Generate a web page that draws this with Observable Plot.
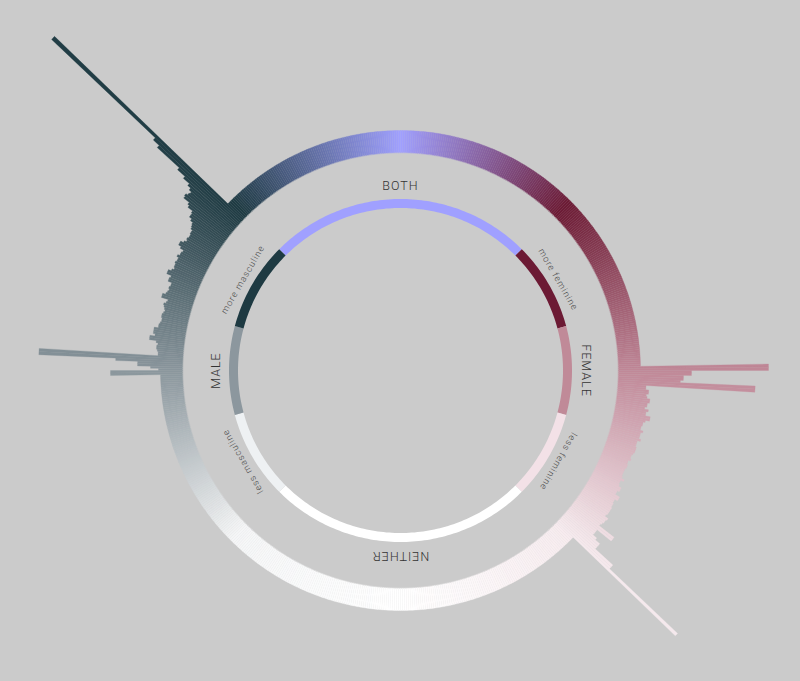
<!DOCTYPE html>
<html>
<head>
<meta charset="utf-8">
<script src="https://cdn.jsdelivr.net/npm/d3@7"></script>
<script src="https://cdn.jsdelivr.net/npm/@observablehq/plot@0.6"></script>
<style>
  body { margin: 0; background: #cbcbcb; }
  .gender-wheel text { letter-spacing: 1px; }
</style>
</head>
<body>
<div id="chart"></div>
<script>
// colours
const bg = '#cbcbcb';
const label_dark = '#333333';
const label_grey = '#4a4a4a';

// inner ring categories (angles clockwise from top, degrees)
const categories = ["BOTH", "more feminine", "FEMALE", "less feminine", "NEITHER", "less masculine", "MALE", "more masculine"];
const categoryFrom = [-45, 45, 75, 105, 135, 225, 255, 285];
const categoryTo = [45, 75, 105, 135, 225, 255, 285, 315];
const categoryColors = ['#a0a0ff', '#6c1a34', '#c08a98', '#f3e1e7', '#ffffff', '#eef1f3', '#8c979e', '#1e3a42'];
const bigLabels = ["BOTH", "FEMALE", "NEITHER", "MALE"];

// outer ring colour stops
const gradientAngles = [0, 45, 90, 135, 180, 225, 270, 315, 360];
const gradientColors = ['#a0a0ff', '#6c1a34', '#c08898', '#f7ecef', '#ffffff', '#f5f6f7', '#8a969c', '#1e3a42', '#a0a0ff'];

// histogram, one value per half degree bin
const binSize = 0.5;
const leftStart = 269;
const leftBars = [
  50, 50, 2, 10, 23, 23, 45, 122, 122, 3,
  3, 4, 5, 5, 4, 6, 13, 13, 8, 10,
  10, 10, 6, 6, 5, 4, 4, 5, 5, 4,
  3, 4, 5, 6, 4, 3, 10, 10, 7, 6,
  5, 6, 5, 5, 9, 9, 8, 13, 13, 10,
  8, 9, 9, 10, 9, 9, 11, 9, 9, 8,
  12, 15, 15, 12, 10, 11, 10, 10, 11, 11,
  13, 14, 15, 18, 21, 21, 22, 28, 30, 37,
  38, 36, 35, 38, 42, 50, 60, 90, 98, 241
];
const rightStart = 89;
const rightBars = [
  128, 128, 51, 51, 43, 43, 40, 115, 115, 6,
  6, 9, 9, 7, 8, 11, 11, 9, 9, 7,
  11, 9, 9, 14, 14, 10, 8, 8, 7, 7,
  10, 8, 8, 8, 10, 7, 7, 7, 8, 8,
  8, 7, 6, 6, 7, 5, 5, 6, 6, 5,
  5, 5, 5, 6, 9, 6, 6, 7, 10, 10,
  8, 8, 13, 13, 10, 10, 11, 11, 12, 12,
  12, 12, 11, 15, 14, 14, 13, 12, 31, 31,
  13, 13, 13, 18, 24, 24, 24, 48, 48, 142
];

let chartOption = {width: 800, height: 681, cx: 400, cy: 370, ringInner: 218, ringOuter: 240,
                   innerRing: 167, innerRingWidth: 9, labelR: 185, subLabelR: 182};

function polar(r, a) {
    // radius + angle (deg, clockwise from top) -> x/y in chart units
    const t = a * Math.PI / 180;
    return {x: r * Math.sin(t), y: r * Math.cos(t)};
}

const ringColor = d3.scaleLinear().domain(gradientAngles).range(gradientColors).interpolate(d3.interpolateRgb);

// every bin of the outer ring, with its bar on top
const nBins = Math.round(360 / binSize);
const values = new Array(nBins).fill(0);
leftBars.forEach((v, i) => values[Math.round(leftStart / binSize) + i] = v);
rightBars.forEach((v, i) => values[Math.round(rightStart / binSize) + i] = v);

const binPoints = values.flatMap((v, k) => {
    const a0 = k * binSize, a1 = a0 + binSize;
    const color = ringColor(a0 + binSize / 2);
    const rOut = chartOption.ringOuter + v;
    return [[chartOption.ringInner, a0], [rOut, a0], [rOut, a1], [chartOption.ringInner, a1]]
        .map(([r, a]) => ({k, color, ...polar(r, a)}));
});

// inner category ring
const half = chartOption.innerRingWidth / 2;
const arcPoints = categories.flatMap((c, i) => {
    const steps = d3.range(categoryFrom[i], categoryTo[i], 1).concat([categoryTo[i]]);
    const outer = steps.map(a => polar(chartOption.innerRing + half, a));
    const inner = steps.slice().reverse().map(a => polar(chartOption.innerRing - half, a));
    return outer.concat(inner).map(p => ({...p, cat: c, color: categoryColors[i]}));
});

const labels = categories.map((c, i) => {
    const a = (categoryFrom[i] + categoryTo[i]) / 2;
    const big = bigLabels.includes(c);
    return {text: c, big, rotate: a, ...polar(big ? chartOption.labelR : chartOption.subLabelR, a)};
});

const chart = Plot.plot({
    width: chartOption.width,
    height: chartOption.height,
    margin: 0,
    className: "gender-wheel",
    style: {background: bg, fontFamily: "Roboto, 'Liberation Sans', sans-serif"},
    x: {domain: [-chartOption.cx, chartOption.width - chartOption.cx], axis: null},
    y: {domain: [chartOption.cy - chartOption.height, chartOption.cy], axis: null},
    color: {type: "identity"},
    marks: [
        // thin stroke of the same colour softens the seams between bins
        Plot.line(binPoints, {x: "x", y: "y", z: "k", fill: "color", stroke: "color", strokeWidth: 0.3, curve: "linear-closed"}),
        Plot.line(arcPoints, {x: "x", y: "y", z: "cat", fill: "color", stroke: "none", curve: "linear-closed"}),
        Plot.text(labels.filter(d => d.big), {x: "x", y: "y", text: "text", rotate: "rotate",
            fontSize: 12.5, fontWeight: 300, fill: label_dark}),
        Plot.text(labels.filter(d => !d.big), {x: "x", y: "y", text: "text", rotate: "rotate",
            fontSize: 9, fontWeight: 300, fill: label_grey})
    ]
});

document.querySelector('#chart').append(chart);
</script>
</body>
</html>
